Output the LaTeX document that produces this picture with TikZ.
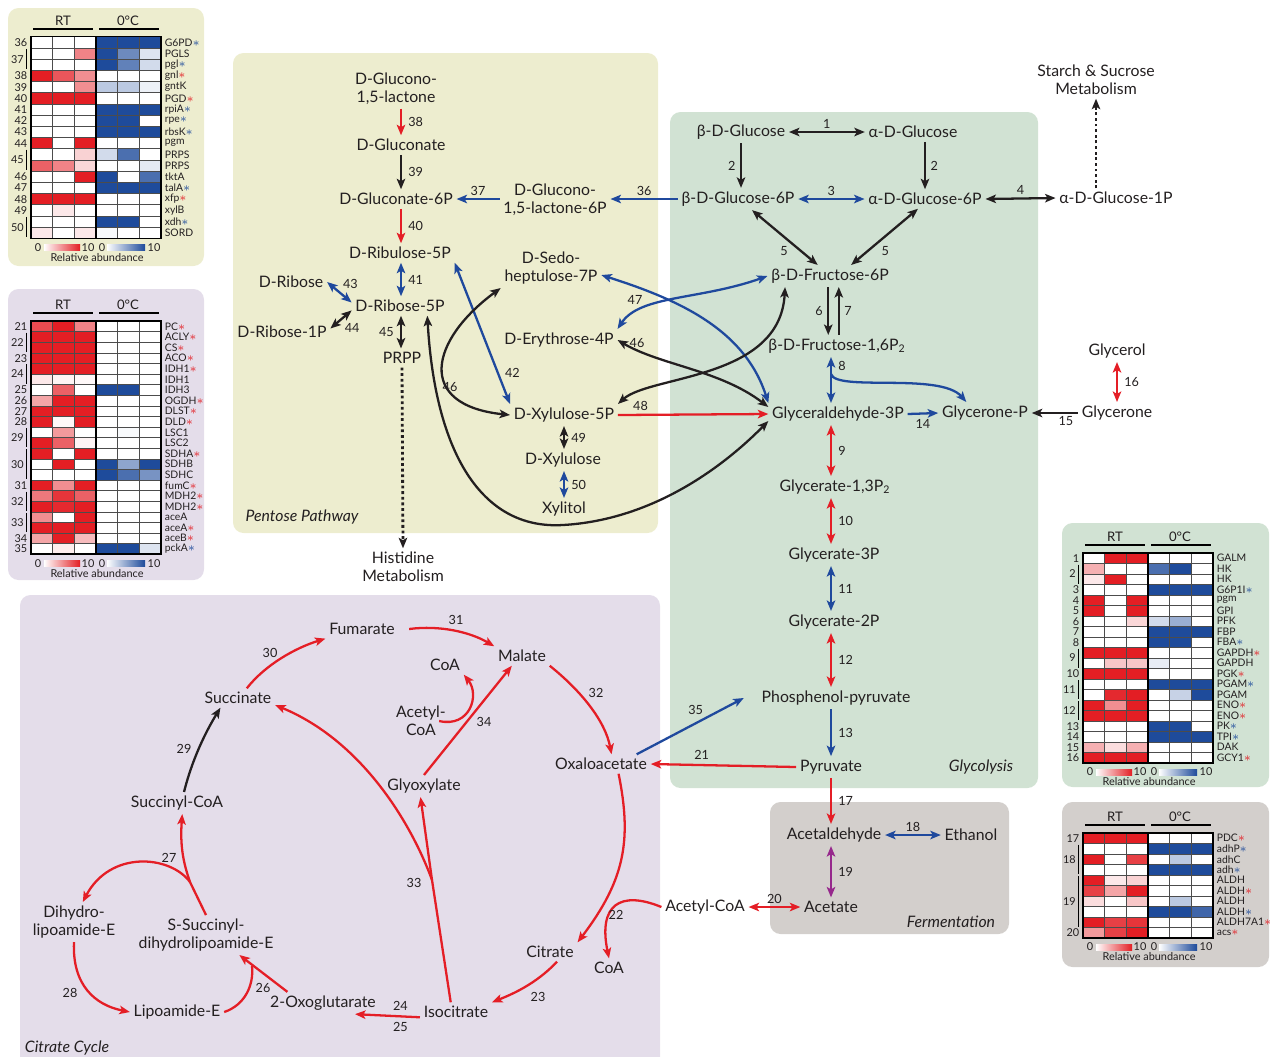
\documentclass[tikz,border=0pt]{standalone}
\usepackage{fontspec}
\setmainfont{Lato}
\usetikzlibrary{arrows.meta}

\definecolor{ink}{RGB}{35,31,32}
\definecolor{rxred}{RGB}{228,30,38}
\definecolor{rxblue}{RGB}{31,73,157}
\definecolor{rxblack}{RGB}{35,31,32}
\definecolor{rxpurple}{RGB}{150,40,140}
\definecolor{pentbg}{RGB}{237,237,207}
\definecolor{glycbg}{RGB}{209,226,211}
\definecolor{citbg}{RGB}{228,221,234}
\definecolor{fermbg}{RGB}{211,207,204}
\definecolor{hmred}{RGB}{227,30,36}
\definecolor{hmblue}{RGB}{30,75,155}

\newcommand{\rstar}{\smash{\textcolor{hmred}{\fontsize{7}{7}\selectfont$\ast$}}}
\newcommand{\bstar}{\smash{\textcolor{hmblue}{\fontsize{7}{7}\selectfont$\ast$}}}

\tikzset{
  met/.style={
    font=\fontsize{9}{10.2}\selectfont,
    text=ink,
    align=center,
    inner sep=2pt
  },
  num/.style={
    font=\fontsize{7.2}{8}\selectfont,
    text=ink,
    inner sep=1.5pt
  },
  region/.style={
    font=\fontsize{9}{10}\selectfont\itshape,
    text=ink
  },
  rxn/.style={
    line width=1.3pt,
    >={Stealth[length=2.1mm,width=1.7mm,inset=0.5mm]}
  },
  redrx/.style={rxn, draw=rxred},
  bluerx/.style={rxn, draw=rxblue},
  blackrx/.style={rxn, draw=rxblack},
  purplerx/.style={rxn, draw=rxpurple},
  dotrx/.style={rxn, draw=rxblack, line width=1.6pt, dash pattern=on 1.6pt off 1.6pt},
  panel/.style={rounded corners=6pt},
  hmcell/.style={draw=black!70, line width=0.35pt},
  hmframe/.style={draw=black, line width=0.9pt},
  hmline/.style={draw=black, line width=1pt},
  gene/.style={anchor=west, font=\fontsize{5.9}{6}\selectfont, text=ink, inner sep=0pt},
  hmnum/.style={font=\fontsize{6.2}{6.5}\selectfont, text=ink, inner sep=0pt},
  hmhead/.style={font=\fontsize{7.5}{8}\selectfont, text=ink}
}

% #1 prefix, #2 left, #3 top, #4 row height, #5 rows, #6 groups
\newcommand{\heatmap}[6]{
  \foreach \gname/\ra/\rb/\rc/\ba/\bb/\bc [count=\i] in {#5}{
    \foreach \v [count=\j] in {\ra,\rb,\rc}
      \filldraw[hmcell, fill=hmred!\v!white] ({#2+(\j-1)*65/3},{#3+(\i-1)*#4}) rectangle ++(65/3,#4);
    \foreach \v [count=\j] in {\ba,\bb,\bc}
      \filldraw[hmcell, fill=hmblue!\v!white] ({#2+65+(\j-1)*65/3},{#3+(\i-1)*#4}) rectangle ++(65/3,#4);
    \node[gene] (#1g\i) at ({#2+133.5},{#3+(\i-0.5)*#4}) {\gname};
    \xdef\hmrows{\i}
  }
  \draw[hmframe] (#2,#3) rectangle ({#2+130},{#3+\hmrows*#4});
  \draw[hmframe] ({#2+65},#3) -- ({#2+65},{#3+\hmrows*#4});
  \foreach \n/\a/\b in {#6}{
    \ifnum\a=\b\relax
      \node[hmnum, anchor=east] (#1n\n) at ({#2-3.5},{#3+(\a-0.5)*#4}) {\n};
    \else
      \node[hmnum, anchor=east] (#1n\n) at ({#2-7},{#3+((\a+\b)/2-0.5)*#4}) {\n};
      \draw[hmline, line width=0.8pt] ({#2-4.5},{#3+(\a-1)*#4+1}) -- ({#2-4.5},{#3+\b*#4-1});
    \fi
  }
  \node[hmhead] (#1rt) at ({#2+32},{#3-16}) {RT};
  \node[hmhead] (#1cold) at ({#2+97},{#3-16}) {0°C};
  \draw[hmline] ({#2+2},{#3-8}) -- ({#2+62},{#3-8});
  \draw[hmline] ({#2+68},{#3-8}) -- ({#2+128},{#3-8});
  \pgfmathsetmacro\hmy{#3+\hmrows*#4+9}
  \node[hmnum] (#1za) at ({#2+7},\hmy) {0};
  \shade[left color=white, right color=hmred] ({#2+13},{\hmy-3}) rectangle ({#2+49},{\hmy+3});
  \node[hmnum] (#1ta) at ({#2+57},\hmy) {10};
  \node[hmnum] (#1zb) at ({#2+71},\hmy) {0};
  \shade[left color=white, right color=hmblue] ({#2+76},{\hmy-3}) rectangle ({#2+114},{\hmy+3});
  \node[hmnum] (#1tb) at ({#2+123},\hmy) {10};
  \node[hmnum] (#1lab) at ({#2+66},{\hmy+10}) {Relative abundance};
}

\begin{document}
\begin{tikzpicture}[x=0.02cm, y=-0.02cm]
\useasboundingbox (0,0) rectangle (1270,1056);

% panels
\fill[pentbg, panel] (233,53) rectangle (658,533);
\fill[glycbg, panel] (670,112) rectangle (1038,788);
\fill[citbg, panel] (20,595) rectangle (660,1075);
\fill[fermbg, panel] (770,802) rectangle (1009,934);
\fill[pentbg, panel] (8,8) rectangle (204,266);
\fill[citbg, panel] (8,289) rectangle (204,580);
\fill[glycbg, panel] (1062,523) rectangle (1269,787);
\fill[fermbg, panel] (1062,802) rectangle (1269,967);

% pentose pathway
\node[met] (glnl) at (396,89) {D-Glucono-\\1,5-lactone};
\node[met] (glcn) at (401,145) {D-Gluconate};
\node[met] (glcn6p) at (396,199) {D-Gluconate-6P};
\node[met] (glnl6p) at (555,200) {D-Glucono-\\1,5-lactone-6P};
\node[met] (ru5p) at (400,253) {D-Ribulose-5P};
\node[met] (rib) at (291,282) {D-Ribose};
\node[met] (r5p) at (400,306) {D-Ribose-5P};
\node[met] (r1p) at (282,332) {D-Ribose-1P};
\node[met] (prpp) at (402,358) {PRPP};
\node[met] (his) at (403,567) {Histidine\\Metabolism};
\node[met] (s7p) at (551,268) {D-Sedo-\\heptulose-7P};
\node[met] (e4p) at (559,340) {D-Erythrose-4P};
\node[met] (xu5p) at (564,415) {D-Xylulose-5P};
\node[met] (xyl) at (563,460) {D-Xylulose};
\node[met] (xoh) at (564,509) {Xylitol};
\node[region] (pentlab) at (302,517) {Pentose Pathway};

% glycolysis
\node[met] (glcb) at (741,132) {β-D-Glucose};
\node[met] (glca) at (913,132) {α-D-Glucose};
\node[met] (g6pb) at (738,199) {β-D-Glucose-6P};
\node[met] (g6pa) at (925,199) {α-D-Glucose-6P};
\node[met] (g1pa) at (1116,198) {α-D-Glucose-1P};
\node[met] (starch) at (1096,80) {Starch \& Sucrose\\Metabolism};
\node[met] (f6p) at (830,276) {β-D-Fructose-6P};
\node[met] (fbp) at (837,346) {β-D-Fructose-1,6P\textsubscript{2}};
\node[met] (gap) at (838,414) {Glyceraldehyde-3P};
\node[met] (dhap) at (985,413) {Glycerone-P};
\node[met] (dha) at (1117,413) {Glycerone};
\node[met] (glyc) at (1117,351) {Glycerol};
\node[met] (bpg) at (835,487) {Glycerate-1,3P\textsubscript{2}};
\node[met] (pg3) at (834,555) {Glycerate-3P};
\node[met] (pg2) at (834,622) {Glycerate-2P};
\node[met] (pep) at (836,698) {Phosphenol-pyruvate};
\node[met] (pyr) at (831,767) {Pyruvate};
\node[region] (glylab) at (981,767) {Glycolysis};

% fermentation
\node[met] (acald) at (834,835) {Acetaldehyde};
\node[met] (etoh) at (971,835) {Ethanol};
\node[met] (ac) at (831,907) {Acetate};
\node[met] (accoa) at (705,907) {Acetyl-CoA};
\node[region] (fermlab) at (951,922) {Fermentation};

% citrate cycle
\node[met] (fum) at (362,629) {Fumarate};
\node[met] (mal) at (522,656) {Malate};
\node[met] (coaa) at (445,665) {CoA};
\node[met] (accoab) at (421,721) {Acetyl-\\CoA};
\node[met] (glx) at (424,786) {Glyoxylate};
\node[met] (suc) at (238,698) {Succinate};
\node[met] (oaa) at (601,764) {Oxaloacetate};
\node[met] (succoa) at (177,803) {Succinyl-CoA};
\node[met] (dhl) at (74,922) {Dihydro-\\lipoamide-E};
\node[met] (ssdl) at (206,935) {S-Succinyl-\\dihydrolipoamide-E};
\node[met] (lip) at (177,1012) {Lipoamide-E};
\node[met] (akg) at (323,1003) {2-Oxoglutarate};
\node[met] (icit) at (456,1012) {Isocitrate};
\node[met] (cit) at (550,952) {Citrate};
\node[met] (coab) at (609,968) {CoA};
\node[region] (citlab) at (67,1048) {Citrate Cycle};
\coordinate (b8) at (831,374);
\coordinate (b27) at (190,882);
\coordinate (b33) at (432,880);
\coordinate (j26) at (252,966);

% pentose connectors
\draw[redrx,->] (glnl.south -| glcn) -- node[num,right=2pt]{38} (glcn.north);
\draw[blackrx,->] (glcn.south) -- node[num,right=2pt]{39} (glcn6p.north -| glcn);
\draw[redrx,->] (glcn6p.south -| glcn) -- node[num,right=2pt]{40} (ru5p.north -| glcn);
\draw[bluerx,->] (glnl6p.west |- glcn6p) -- node[num,above]{37} (glcn6p.east);
\draw[bluerx,->] (g6pb.west) -- node[num,above]{36} (glnl6p.east |- g6pb);
\draw[bluerx,<->] (ru5p.south -| glcn) -- node[num,right=2pt]{41} (r5p.north -| glcn);
\draw[bluerx,<->] (rib.east) -- node[num,above right]{43} ([yshift=2pt]r5p.west);
\draw[blackrx,<->] ([yshift=2pt]r1p.east) -- node[num,below right]{44} ([yshift=-2.5pt]r5p.west);
\draw[blackrx,<->] (r5p.south -| glcn) -- node[num,left=2pt]{45} (prpp.north -| glcn);
\draw[dotrx,->] (prpp.south) -- (his.north);
\draw[bluerx,<->] (ru5p.south east) -- node[num,pos=0.78,right=2pt]{42} (xu5p.north west);
\draw[blackrx,<->] (s7p.south west) .. controls (430,340) and (415,405) .. (xu5p.west);
\node[num] (l46a) at (450,387) {46};
\draw[blackrx,<->] ([xshift=-12pt]r5p.south east) .. controls (435,450) and (480,530) .. (563,525)
  .. controls (650,520) and (720,470) .. ([yshift=-4pt]gap.west);
\draw[bluerx,<->] ([yshift=-4pt]s7p.east) .. controls (680,300) and (745,330) .. (gap.north west);
\draw[bluerx,<->] (e4p.north east) .. controls (640,295) and (700,300) .. (f6p.west);
\node[num] (l47) at (635,300) {47};
\draw[blackrx,<->] (e4p.east) .. controls (660,365) and (720,370) .. ([yshift=4pt]gap.west);
\draw[blackrx,<->] (xu5p.north east) .. controls (650,375) and (780,380) .. ([xshift=10pt]f6p.south west);
\node[num] (l46b) at (637,343) {46};
\draw[redrx,->] (xu5p.east) -- node[num,pos=0.15,above]{48} (gap.west);
\draw[blackrx,<->] (xu5p.south) -- node[num,right=2pt]{49} (xyl.north -| xu5p);
\draw[bluerx,<->] (xyl.south -| xu5p) -- node[num,right=2pt]{50} (xoh.north -| xu5p);

% glycolysis connectors
\draw[blackrx,<->] (glcb.east) -- node[num,above]{1} (glca.west);
\draw[blackrx,->] (glcb.south) -- node[num,left=1pt]{2} (glcb.south |- g6pb.north);
\draw[blackrx,->] (glca.south -| g6pa) -- node[num,right=1pt]{2} (g6pa.north);
\draw[bluerx,<->] (g6pb.east) -- node[num,above]{3} (g6pa.west);
\draw[blackrx,<->] (g6pa.east) -- node[num,above]{4} (g1pa.west);
\draw[dotrx,->] (starch.south |- g1pa.north) -- (starch.south);
\draw[blackrx,<->] ([xshift=8pt]g6pb.south) -- node[num,pos=0.6,below left]{5} ([xshift=-7pt]f6p.north);
\draw[blackrx,<->] ([xshift=-4pt]g6pa.south) -- node[num,pos=0.6,below right]{5} ([xshift=12pt]f6p.north);
\draw[blackrx,->] ([xshift=-1pt]f6p.south) -- node[num,left=1pt]{6} ([xshift=-1pt]f6p.south |- fbp.north);
\draw[blackrx,<-] ([xshift=5pt]f6p.south) -- node[num,right=1pt]{7} ([xshift=5pt]f6p.south |- fbp.north);
\draw[bluerx,<->] (fbp.south -| pyr) -- node[num,pos=0.2,right=2pt]{8} (gap.north -| pyr);
\draw[bluerx,->] (b8) .. controls (836,392) and (940,372) .. ([xshift=16pt]dhap.north west);
\draw[bluerx,->] (gap.east) -- node[num,below=1pt]{14} (dhap.west);
\draw[blackrx,->] (dha.west) -- node[num,below right=0pt]{15} (dhap.east);
\draw[redrx,<->] (glyc.south) -- node[num,right=2pt]{16} (dha.north);
\draw[redrx,<->] (gap.south -| pyr) -- node[num,right=2pt]{9} (bpg.north -| pyr);
\draw[redrx,<->] (bpg.south -| pyr) -- node[num,right=2pt]{10} (pg3.north -| pyr);
\draw[bluerx,<->] (pg3.south -| pyr) -- node[num,right=2pt]{11} (pg2.north -| pyr);
\draw[redrx,<->] (pg2.south -| pyr) -- node[num,right=2pt]{12} (pep.north -| pyr);
\draw[bluerx,->] (pep.south -| pyr) -- node[num,right=2pt]{13} (pyr.north);
\draw[redrx,->] (pyr.west) -- node[num,pos=0.65,above=1pt]{21} (oaa.east);
\draw[bluerx,->] ([xshift=-8pt]oaa.north east) -- node[num,pos=0.55,above=3pt]{35} ([xshift=-8pt]pep.west);
\draw[redrx,->] (pyr.south) -- node[num,right=2pt]{17} (acald.north -| pyr);
\draw[bluerx,<->] (acald.east) -- node[num,above]{18} (etoh.west);
\draw[purplerx,<->] (acald.south -| pyr) -- node[num,right=2pt]{19} (ac.north);
\draw[redrx,<->] (accoa.east) -- node[num,above]{20} (ac.west);

% citrate connectors
\draw[redrx,->] ([xshift=6pt]fum.east) .. controls (440,625) and (470,632) .. (mal.north west);
\node[num] (l31) at (456,620) {31};
\draw[redrx,->] ([xshift=5pt]suc.north) .. controls (265,665) and (295,648) .. (fum.south west);
\node[num] (l30) at (270,653) {30};
\draw[redrx,->] (mal.south east) .. controls (580,690) and (605,720) .. ([xshift=6pt]oaa.north);
\node[num] (l32) at (596,693) {32};
\draw[blackrx,->] ([xshift=4pt]succoa.north) .. controls (192,760) and (205,733) .. ([xshift=-10pt]suc.south);
\node[num] (l29) at (184,749) {29};
\draw[redrx,->] (ssdl.north) -- (b27) .. controls (183,862) and (180,845) .. ([xshift=3pt]succoa.south);
\draw[redrx,->] (b27) .. controls (170,855) and (110,850) .. ([xshift=5pt]dhl.north);
\node[num] (l27) at (169,858) {27};
\draw[redrx,->] (dhl.south) .. controls (72,985) and (95,1005) .. (lip.west);
\node[num] (l28) at (70,993) {28};
\draw[redrx,->] ([xshift=12pt]akg.north west) -- ([xshift=19pt]ssdl.south);
\draw[redrx] (lip.east) .. controls (245,1005) and (254,985) .. (j26);
\node[num] (l26) at (263,988) {26};
\draw[redrx,->] ([yshift=-3pt]icit.west) -- node[num,pos=0.3,above=1pt]{24} node[num,pos=0.3,below=1pt]{25} ([xshift=-14pt]akg.south east);
\draw[redrx,->] ([xshift=-3pt]icit.north) -- (b33) -- ([xshift=-2pt]glx.south);
\draw[redrx,->] (b33) .. controls (410,820) and (360,740) .. ([yshift=-4pt]suc.east);
\node[num] (l33) at (414,883) {33};
\draw[redrx,->] (glx.north) -- ([xshift=10pt]mal.south west);
\draw[redrx,->] ([xshift=-6pt]accoab.east) .. controls (470,728) and (480,695) .. (coaa.south east);
\node[num] (l34) at (484,722) {34};
\draw[redrx,->] ([xshift=10pt]oaa.south) .. controls (632,840) and (625,880) .. (cit.north east);
\draw[redrx,->] (accoa.west) .. controls (620,890) and (598,905) .. (coab.north);
\node[num] (l22) at (616,915) {22};
\draw[redrx,->] ([xshift=4pt]cit.south) .. controls (535,985) and (510,995) .. (icit.north east);
\node[num] (l23) at (538,997) {23};

% heat maps
\heatmap{pp}{31}{36.7}{11.2}{
  G6PD\bstar/0/0/0/100/100/100, PGLS/0/0/55/100/65/15, pgl\bstar/0/0/0/100/70/20,
  gnl\rstar/100/75/50/0/0/0, gntK/0/0/50/30/30/8, PGD\rstar/100/100/100/0/0/0,
  rpiA\bstar/0/0/0/100/100/100, rpe\bstar/0/0/0/100/100/0, rbsK\bstar/0/0/0/100/100/100,
  pgm/100/0/100/0/0/0, PRPS/0/0/20/20/80/0, PRPS/70/55/18/0/0/12,
  tktA/0/0/100/100/0/80, talA\bstar/0/0/0/100/100/100, xfp\rstar/100/100/100/0/0/0,
  xylB/0/10/0/0/0/0, xdh\bstar/0/0/0/100/100/0, SORD/10/0/10/3/0/0}{
  36/1/1, 37/2/3, 38/4/4, 39/5/5, 40/6/6, 41/7/7, 42/8/8, 43/9/9, 44/10/10,
  45/11/12, 46/13/13, 47/14/14, 48/15/15, 49/16/16, 50/17/18}

\heatmap{tca}{31}{321}{10.6}{
  PC\rstar/80/100/55/0/0/0, ACLY\rstar/100/100/100/0/0/0, CS\rstar/100/100/100/0/0/0,
  ACO\rstar/100/100/100/0/0/0, IDH1\rstar/100/100/100/0/0/0, IDH1/10/5/3/0/0/0,
  IDH3/0/70/0/100/100/0, OGDH\rstar/40/100/100/0/0/0, DLST\rstar/100/100/100/0/0/0,
  DLD\rstar/100/3/100/0/0/0, LSC1/0/45/0/0/3/0, LSC2/100/70/5/0/0/0,
  SDHA\rstar/100/0/100/0/0/0, SDHB/0/100/0/100/50/100, SDHC/0/0/0/100/80/60,
  fumC\rstar/100/50/100/0/0/0, MDH2\rstar/60/90/70/0/0/0, MDH2\rstar/100/95/100/0/0/0,
  aceA/50/0/100/0/0/0, aceA\rstar/100/100/100/0/0/0, aceB\rstar/40/100/30/0/0/0,
  pckA\bstar/0/8/0/100/100/15}{
  21/1/1, 22/2/3, 23/4/4, 24/5/6, 25/7/7, 26/8/8, 27/9/9, 28/10/10, 29/11/12,
  30/13/15, 31/16/16, 32/17/18, 33/19/20, 34/21/21, 35/22/22}

\heatmap{gly}{1083}{553}{10.5}{
  GALM/0/100/100/0/0/0, HK/35/0/0/80/100/0, HK/10/100/0/0/0/0,
  G6P1I\bstar/0/0/0/100/100/100, pgm/100/0/100/0/0/0, GPI/100/0/100/0/0/0,
  PFK/0/0/18/20/45/0, FBP/0/0/0/100/100/100, FBA\bstar/0/0/0/100/100/0,
  GAPDH\rstar/100/100/100/0/0/0, GAPDH/0/25/25/10/0/0, PGK\rstar/100/100/100/0/0/0,
  PGAM\bstar/0/0/0/100/100/100, PGAM/0/95/100/0/25/100, ENO\rstar/100/50/100/0/0/0,
  ENO\rstar/100/100/100/0/0/0, PK\bstar/0/0/0/100/100/0, TPI\bstar/0/0/0/100/100/100,
  DAK/35/15/35/0/0/0, GCY1\rstar/100/100/100/0/0/0}{
  1/1/1, 2/2/3, 3/4/4, 4/5/5, 5/6/6, 6/7/7, 7/8/8, 8/9/9, 9/10/11, 10/12/12,
  11/13/14, 12/15/16, 13/17/17, 14/18/18, 15/19/19, 16/20/20}

\heatmap{fer}{1083}{833}{10.5}{
  PDC\rstar/100/100/100/0/0/0, adhP\bstar/0/0/0/100/100/100, adhC/100/0/85/0/30/0,
  adh\bstar/0/0/0/100/100/100, ALDH/100/10/20/0/0/0, ALDH\rstar/85/40/100/0/0/0,
  ALDH/15/0/25/0/30/0, ALDH\bstar/0/0/0/100/100/85, ALDH7A1\rstar/100/85/90/0/0/0,
  acs\rstar/45/85/100/0/0/0}{
  17/1/1, 18/2/4, 19/5/9, 20/10/10}
\end{tikzpicture}
\end{document}
